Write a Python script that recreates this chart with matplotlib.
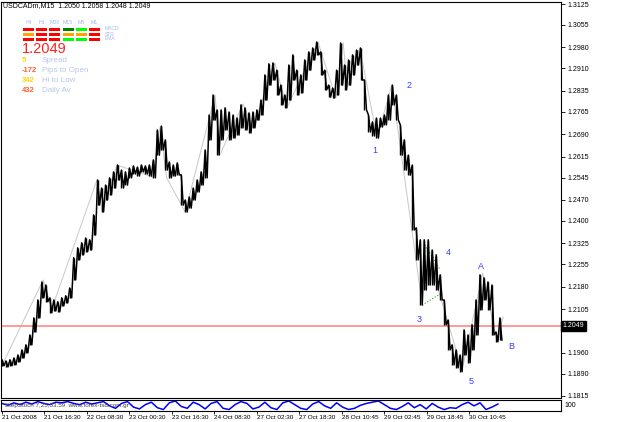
import matplotlib.pyplot as plt
import numpy as np
from matplotlib.patches import Rectangle

plt.rcParams['font.family'] = ['Liberation Sans', 'DejaVu Sans']

# USDCADm M15 - one column of high/low every 6 bars
bar_step = 6
col_high = [1.1936, 1.1932, 1.1936, 1.1942, 1.1952, 1.1969, 1.1986, 1.2019, 1.2076, 1.2136,
            1.2196, 1.2186, 1.2143, 1.2136, 1.2130, 1.2143, 1.2150, 1.2176, 1.2277, 1.2310,
            1.2327, 1.2343, 1.2337, 1.2420, 1.2537, 1.2510, 1.2520, 1.2544, 1.2564, 1.2587,
            1.2570, 1.2564, 1.2577, 1.2584, 1.2580, 1.2587, 1.2584, 1.2587, 1.2604, 1.2704,
            1.2717, 1.2671, 1.2597, 1.2587, 1.2594, 1.2554, 1.2470, 1.2480, 1.2510, 1.2537,
            1.2564, 1.2637, 1.2754, 1.2821, 1.2771, 1.2771, 1.2778, 1.2764, 1.2754, 1.2744,
            1.2788, 1.2778, 1.2761, 1.2764, 1.2771, 1.2804, 1.2888, 1.2925, 1.2928, 1.2904,
            1.2854, 1.2821, 1.2921, 1.2955, 1.2904, 1.2888, 1.2938, 1.2965, 1.2978, 1.2998,
            1.2965, 1.2904, 1.2854, 1.2844, 1.2904, 1.2995, 1.2921, 1.2938, 1.2955, 1.2971,
            1.2978, 1.2871, 1.2754, 1.2731, 1.2744, 1.2744, 1.2754, 1.2821, 1.2854, 1.2821,
            1.2721, 1.2671, 1.2620, 1.2587, 1.2377, 1.2337, 1.2337, 1.2337, 1.2303, 1.2287,
            1.2220, 1.2136, 1.2069, 1.1986, 1.1969, 1.1952, 1.2036, 1.2019, 1.2053, 1.2136,
            1.2220, 1.2210, 1.2196, 1.2186, 1.2029, 1.2076]
col_low = [1.1916, 1.1912, 1.1916, 1.1919, 1.1929, 1.1942, 1.1959, 1.1986, 1.2029, 1.2076,
           1.2143, 1.2130, 1.2093, 1.2099, 1.2096, 1.2116, 1.2126, 1.2143, 1.2203, 1.2270,
           1.2287, 1.2297, 1.2303, 1.2353, 1.2453, 1.2430, 1.2470, 1.2487, 1.2510, 1.2537,
           1.2510, 1.2520, 1.2544, 1.2557, 1.2550, 1.2564, 1.2557, 1.2550, 1.2544, 1.2620,
           1.2637, 1.2570, 1.2544, 1.2550, 1.2554, 1.2453, 1.2430, 1.2443, 1.2470, 1.2497,
           1.2520, 1.2544, 1.2671, 1.2737, 1.2620, 1.2671, 1.2704, 1.2671, 1.2677, 1.2687,
           1.2711, 1.2704, 1.2694, 1.2711, 1.2737, 1.2754, 1.2804, 1.2854, 1.2871, 1.2821,
           1.2788, 1.2778, 1.2804, 1.2871, 1.2821, 1.2828, 1.2871, 1.2904, 1.2938, 1.2955,
           1.2888, 1.2838, 1.2814, 1.2811, 1.2821, 1.2854, 1.2838, 1.2854, 1.2888, 1.2921,
           1.2871, 1.2771, 1.2697, 1.2684, 1.2677, 1.2714, 1.2721, 1.2737, 1.2788, 1.2737,
           1.2620, 1.2570, 1.2553, 1.2370, 1.2270, 1.2119, 1.2169, 1.2186, 1.2186, 1.2169,
           1.2136, 1.2053, 1.1969, 1.1919, 1.1909, 1.1896, 1.1952, 1.1926, 1.1969, 1.2019,
           1.2103, 1.2136, 1.2103, 1.2019, 1.1996, 1.2002]

# ZigZag pivots
zz_bar = [0, 62, 75, 143, 151, 173, 227, 238, 248, 276, 321, 328, 363, 378, 411, 429,
          476, 503, 514, 520, 539, 565, 587, 633, 637, 693, 724, 745, 755]
zz_price = [1.1917, 1.2203, 1.2106, 1.2537, 1.2430, 1.2587, 1.2547, 1.2714, 1.2544, 1.2430,
            1.2821, 1.2620, 1.2791, 1.2711, 1.2928, 1.2778, 1.2998, 1.2811, 1.2995, 1.2844,
            1.2978, 1.2677, 1.2854, 1.2119, 1.2320, 1.1902, 1.2226, 1.2002, 1.2079]

# triangle (wave 4)
tri_up_bar, tri_up_price = [637, 660], [1.2320, 1.2237]
tri_lo_bar, tri_lo_price = [633, 660], [1.2119, 1.2156]

wave_text = ['1', '2', '3', '4', '5', 'A', 'B']
wave_bar = [562, 613, 628, 673, 706, 721, 767]
wave_price = [1.2637, 1.2851, 1.2069, 1.2296, 1.1865, 1.2249, 1.1979]

# StepStoch, every 9 bars
stoch_step = 9
stoch = [70, 55, 75, 60, 80, 65, 85, 70, 60, 80, 75, 85, 70, 60, 80, 65, 75, 85, 50, 30,
         70, 85, 40, 25, 60, 80, 35, 20, 75, 90, 45, 30, 80, 60, 25, 70, 85, 30, 20, 60,
         85, 70, 25, 40, 80, 35, 20, 75, 90, 60, 30, 20, 65, 85, 50, 30, 75, 40, 20, 30,
         55, 70, 80, 90, 60, 30, 20, 45, 75, 35, 60, 25, 70, 40, 20, 35, 30, 60, 80, 50,
         75, 20, 40, 65]

bid = 1.2049
price_ticks = [1.3125, 1.3055, 1.2980, 1.2910, 1.2835, 1.2765, 1.2690, 1.2615, 1.2545,
               1.2470, 1.2400, 1.2325, 1.2255, 1.2180, 1.2105, 1.1960, 1.1890, 1.1815]
time_labels = ['21 Oct 2008', '21 Oct 16:30', '22 Oct 08:30', '23 Oct 00:30', '23 Oct 16:30',
               '24 Oct 08:30', '27 Oct 02:30', '27 Oct 18:30', '28 Oct 10:45', '29 Oct 02:45',
               '29 Oct 18:45', '30 Oct 10:45']
time_step = 64

tf_names = ['H4', 'H1', 'M30', 'M15', 'M5', 'M1']
row_names = ['MACD', 'STR', 'EMA']
signals = [['dn', 'dn', 'dn', 'up', 'up2', 'dn'],
           ['fl', 'dn', 'dn', 'fl', 'fl', 'dn'],
           ['dn', 'dn', 'dn', 'up2', 'up2', 'dn']]
info_vals = ['5', '-172', '342', '432']
info_names = ['Spread', 'Pips to Open', 'Hi to Low', 'Daily Av']

fig = plt.figure(figsize=(6.25, 4.22), dpi=100)
ax = fig.add_axes([1 / 625, 1 - 398 / 422, 560 / 625, 396 / 422])
ax.set_xlim(-1.5, 842)
ax.set_ylim(1.18083, 1.31317)

xs = np.arange(len(col_high)) * bar_step
ax.plot(zz_bar, zz_price, color='#c8c8c8', lw=0.7, zorder=1)
ax.plot(tri_up_bar, tri_up_price, color='#30a030', lw=0.8, ls=':', zorder=1)
ax.plot(tri_lo_bar, tri_lo_price, color='#30a030', lw=0.8, ls=':', zorder=1)
# dense bars: high -> low -> high every half column
px, py = [], []
for i in range(len(xs)):
    px += [xs[i], xs[i] + bar_step / 2]
    py += [col_high[i], col_low[i]]
ax.plot(px, py, color='black', lw=1.1, zorder=3)
ax.vlines(xs, col_low, col_high, color='black', lw=1.0, zorder=3)
ax.axhline(bid, color='#ff8888', lw=1.2, zorder=2)

for t, b, p in zip(wave_text, wave_bar, wave_price):
    ax.text(b, p, t, color='#3c3cff', fontsize=6.5, ha='center', va='center')

ax.yaxis.tick_right()
ax.set_yticks(price_ticks)
ax.set_yticklabels(['%.4f' % v for v in price_ticks])
ax.tick_params(axis='y', labelsize=5, length=3, width=0.6, pad=1.5)
ax.set_xticks([])
for s in ax.spines.values():
    s.set_linewidth(0.8)
ax.text(1.003, bid, '%.4f' % bid, transform=ax.get_yaxis_transform(), color='white',
        fontsize=5, va='center', ha='left',
        bbox=dict(facecolor='black', edgecolor='black', pad=1.2))

# sub window
ax2 = fig.add_axes([1 / 625, 1 - 411 / 422, 560 / 625, 11 / 422])
ax2.set_xlim(-1.5, 842)
ax2.set_ylim(8, 98)
ax2.plot(np.arange(len(stoch)) * stoch_step, stoch, color='#0000ff', lw=1.1)
ax2.text(4, 50, 'StepStoch 7,25,53.59  www.forex-tsd.com.gr', fontsize=4.5,
         color='#404040', va='center')
ax2.set_yticks([])
ax2.set_xticks(np.arange(len(time_labels)) * time_step)
ax2.set_xticklabels(time_labels)
ax2.tick_params(axis='x', labelsize=4.6, length=2, width=0.6, pad=1)
for lab in ax2.get_xticklabels():
    lab.set_ha('left')
for s in ax2.spines.values():
    s.set_linewidth(0.8)
ax2.text(1.006, 0.5, '100', transform=ax2.transAxes, fontsize=5, va='center')

# indicator overlay (pixel coords)
ov = fig.add_axes([0, 0, 1, 1])
ov.set_xlim(0, 625)
ov.set_ylim(422, 0)
ov.axis('off')
fig.text(3 / 625, 1 - 6 / 422, 'USDCADm,M15  1.2050 1.2058 1.2048 1.2049', fontsize=5,
         va='center', color='black')
sig_color = {'dn': '#ff0000', 'fl': '#ffa500', 'up': '#008000', 'up2': '#00ff00'}
col_x = [23, 36, 49, 62.5, 76, 89]
for j, name in enumerate(tf_names):
    ov.text(col_x[j] + 5.5, 22, name, fontsize=3.8, color='#a8b8e8', ha='center', va='center')
for r, row in enumerate(signals):
    for j, s in enumerate(row):
        ov.add_patch(Rectangle((col_x[j], 27.5 + 5 * r), 11, 3.2, color=sig_color[s], lw=0))
    ov.text(105, 29 + 5 * r, row_names[r], fontsize=3.6, color='#a8b8e8', va='center')
ov.text(22, 49, '%.4f' % bid, fontsize=10.5, color='#ff2020', va='center')
val_colors = ['#ffd400', '#ff6030', '#ffd400', '#ff6030']
for k in range(4):
    ov.text(22, 60 + 10 * k, info_vals[k], fontsize=5.5, fontweight='bold',
            color=val_colors[k], va='center')
    ov.text(42, 60 + 10 * k, info_names[k], fontsize=5.8, color='#b8c6e6', va='center')

fig.savefig('out.png', dpi=100)
